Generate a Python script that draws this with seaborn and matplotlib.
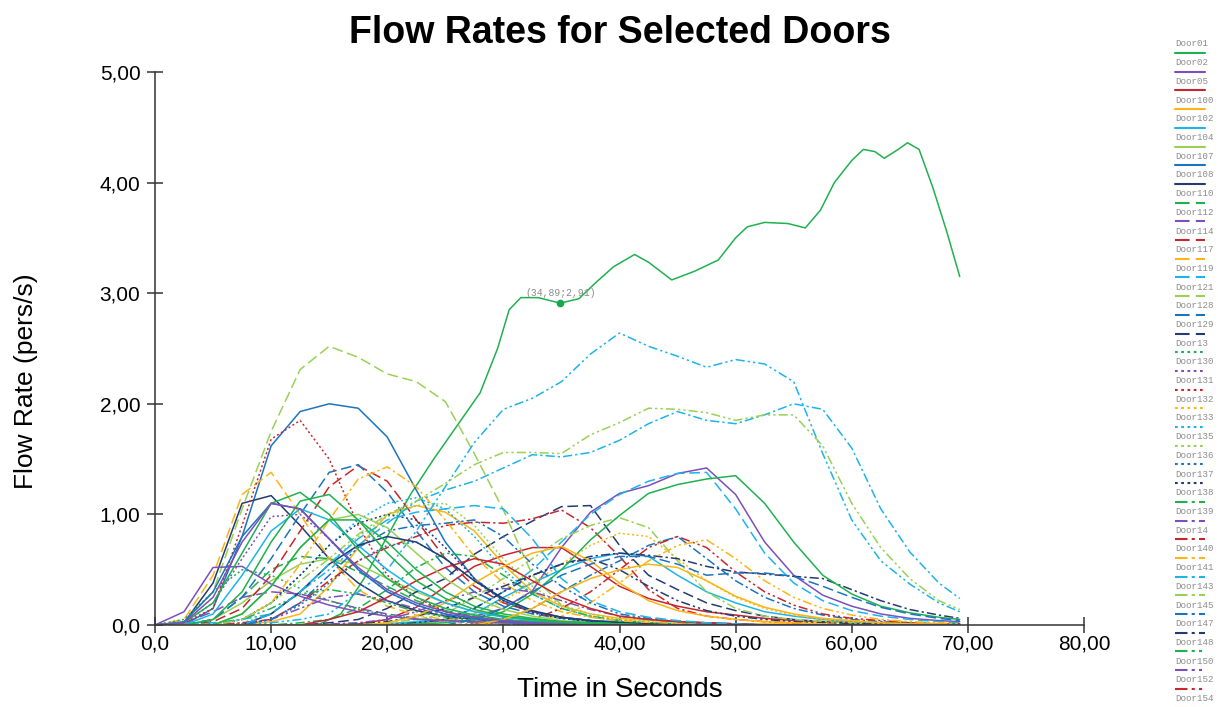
import matplotlib
matplotlib.use("Agg")
import matplotlib.pyplot as plt
from matplotlib.lines import Line2D
import pandas as pd
import seaborn as sns

sns.set_style("ticks")
plt.rcParams['font.family'] = ['Liberation Sans', 'DejaVu Sans']
plt.rcParams['text.color'] = 'black'
plt.rcParams['axes.labelcolor'] = 'black'

# shared time grid (s)
t = [0, 2.5, 5, 7.5, 10, 12.5, 15, 17.5, 20, 22.5, 25, 27.5, 30, 32.5, 35,
     37.5, 40, 42.5, 45, 47.5, 50, 52.5, 55, 57.5, 60, 62.5, 65, 67.5, 69.3]

# Door01 is read on its own, finer grid
t01 = [0, 10, 14, 16, 18, 20, 22, 24, 26, 28, 29.5, 30.5, 31.5, 33, 34.89,
       36.5, 38, 39.5, 41.3, 42.5, 44.5, 46.5, 48.5, 50, 51, 52.5, 54.5, 56,
       57.3, 58.5, 60, 61, 62, 62.8, 64, 64.8, 65.8, 67, 68.2, 69.3]
door01 = [0, 0, 0, 0.1, 0.42, 0.8, 1.18, 1.5, 1.8, 2.1, 2.5, 2.85, 2.96, 2.96,
          2.91, 2.95, 3.1, 3.24, 3.35, 3.28, 3.12, 3.2, 3.3, 3.5, 3.6, 3.64,
          3.63, 3.59, 3.75, 4.0, 4.2, 4.3, 4.28, 4.22, 4.3, 4.36, 4.3, 3.95,
          3.55, 3.15]

door02 = [0, 0, 0, 0, 0, 0, 0, 0, 0.01, 0.02, 0.04, 0.08, 0.15, 0.31, 0.7, 1.02,
          1.19, 1.26, 1.37, 1.42, 1.18, 0.75, 0.45, 0.27, 0.17, 0.1, 0.06, 0.04, 0.03]
door05 = [0, 0, 0, 0, 0, 0, 0, 0.01, 0.05, 0.16, 0.35, 0.53, 0.63, 0.7, 0.7, 0.53,
          0.35, 0.24, 0.17, 0.12, 0.09, 0.06, 0.04, 0.03, 0.02, 0.02, 0.01, 0.01, 0.01]
door100 = [0, 0, 0, 0, 0.03, 0.1, 0.35, 0.7, 1.0, 1.08, 1.02, 0.85, 0.55, 0.3, 0.17, 0.1,
           0.06, 0.04, 0.03, 0.02, 0.01, 0.01, 0.01, 0, 0, 0, 0, 0, 0]
door102 = [0, 0, 0, 0, 0, 0, 0, 0, 0.01, 0.03, 0.05, 0.1, 0.25, 0.38, 0.5, 0.6,
           0.65, 0.62, 0.45, 0.3, 0.2, 0.12, 0.08, 0.05, 0.03, 0.02, 0.01, 0.01, 0.01]
door104 = [0, 0, 0.05, 0.2, 0.4, 0.55, 0.6, 0.55, 0.42, 0.3, 0.2, 0.12, 0.08, 0.05, 0.03, 0.02,
           0.01, 0.01, 0, 0, 0, 0, 0, 0, 0, 0, 0, 0, 0]
door107 = [0, 0, 0.15, 0.8, 1.62, 1.93, 2.0, 1.96, 1.7, 1.22, 0.75, 0.42, 0.22, 0.12, 0.07, 0.04,
           0.03, 0.02, 0.01, 0.01, 0.01, 0, 0, 0, 0, 0, 0, 0, 0]
door108 = [0, 0.02, 0.38, 1.1, 1.17, 0.9, 0.6, 0.38, 0.22, 0.13, 0.08, 0.05, 0.03, 0.02, 0.01, 0.01,
           0, 0, 0, 0, 0, 0, 0, 0, 0, 0, 0, 0, 0]
door110 = [0, 0, 0.05, 0.25, 0.5, 0.62, 0.6, 0.48, 0.35, 0.22, 0.13, 0.08, 0.05, 0.03, 0.02, 0.01,
           0, 0, 0, 0, 0, 0, 0, 0, 0, 0, 0, 0, 0]
door112 = [0, 0.02, 0.12, 0.25, 0.3, 0.28, 0.22, 0.15, 0.1, 0.06, 0.04, 0.02, 0.01, 0.01, 0, 0,
           0, 0, 0, 0, 0, 0, 0, 0, 0, 0, 0, 0, 0]
door114 = [0, 0, 0.03, 0.15, 0.45, 0.85, 1.25, 1.44, 1.3, 0.95, 0.6, 0.35, 0.2, 0.12, 0.07, 0.04,
           0.02, 0.01, 0.01, 0, 0, 0, 0, 0, 0, 0, 0, 0, 0]
door117 = [0, 0.05, 0.45, 1.18, 1.38, 1.0, 0.6, 0.32, 0.17, 0.09, 0.05, 0.03, 0.02, 0.01, 0, 0,
           0, 0, 0, 0, 0, 0, 0, 0, 0, 0, 0, 0, 0]
door119 = [0, 0, 0, 0, 0, 0, 0, 0, 0.01, 0.02, 0.05, 0.15, 0.3, 0.5, 0.75, 1.0,
           1.18, 1.3, 1.37, 1.38, 1.05, 0.65, 0.38, 0.22, 0.13, 0.08, 0.05, 0.03, 0.02]
door121 = [0, 0.02, 0.3, 1.05, 1.75, 2.31, 2.52, 2.42, 2.27, 2.2, 2.02, 1.55, 1.04, 0.45, 0.18, 0.07,
           0.04, 0.02, 0.01, 0.01, 0, 0, 0, 0, 0, 0, 0, 0, 0]
door128 = [0, 0, 0.05, 0.25, 0.6, 1.0, 1.38, 1.45, 1.2, 0.85, 0.52, 0.3, 0.17, 0.1, 0.06, 0.03,
           0.02, 0.01, 0, 0, 0, 0, 0, 0, 0, 0, 0, 0, 0]
door129 = [0, 0, 0, 0, 0, 0, 0.02, 0.05, 0.15, 0.3, 0.42, 0.64, 0.8, 0.94, 1.07, 1.08,
           0.72, 0.45, 0.32, 0.2, 0.13, 0.08, 0.05, 0.03, 0.02, 0.01, 0.01, 0, 0]
door13 = [0, 0.05, 0.3, 0.5, 0.45, 0.33, 0.22, 0.14, 0.09, 0.06, 0.04, 0.02, 0.01, 0, 0, 0,
          0, 0, 0, 0, 0, 0, 0, 0, 0, 0, 0, 0, 0]
door130 = [0, 0.02, 0.2, 0.6, 0.98, 1.0, 0.78, 0.5, 0.3, 0.18, 0.1, 0.06, 0.03, 0.02, 0.01, 0,
           0, 0, 0, 0, 0, 0, 0, 0, 0, 0, 0, 0, 0]
door131 = [0, 0.02, 0.15, 0.9, 1.68, 1.85, 1.5, 0.9, 0.45, 0.25, 0.12, 0.07, 0.04, 0.02, 0.01, 0,
           0, 0, 0, 0, 0, 0, 0, 0, 0, 0, 0, 0, 0]
door132 = [0, 0, 0, 0, 0, 0, 0, 0, 0.01, 0.01, 0.03, 0.1, 0.22, 0.38, 0.55, 0.72,
           0.83, 0.8, 0.6, 0.4, 0.25, 0.15, 0.09, 0.05, 0.03, 0.02, 0.01, 0.01, 0]
door133 = [0, 0, 0, 0.05, 0.2, 0.45, 0.72, 0.95, 1.1, 1.15, 1.05, 0.8, 0.5, 0.28, 0.15, 0.08,
           0.04, 0.02, 0.01, 0, 0, 0, 0, 0, 0, 0, 0, 0, 0]
door135 = [0, 0, 0, 0.02, 0.1, 0.3, 0.55, 0.8, 0.98, 1.08, 1.1, 0.9, 0.6, 0.35, 0.18, 0.1,
           0.05, 0.03, 0.01, 0, 0, 0, 0, 0, 0, 0, 0, 0, 0]
door136 = [0, 0, 0, 0, 0.05, 0.18, 0.38, 0.58, 0.72, 0.75, 0.6, 0.4, 0.22, 0.12, 0.07, 0.04,
           0.02, 0.01, 0, 0, 0, 0, 0, 0, 0, 0, 0, 0, 0]
door137 = [0, 0, 0, 0.05, 0.2, 0.45, 0.72, 0.92, 1.0, 0.95, 0.7, 0.42, 0.22, 0.11, 0.06, 0.03,
           0.02, 0.01, 0, 0, 0, 0, 0, 0, 0, 0, 0, 0, 0]
door138 = [0, 0, 0, 0, 0, 0.02, 0.05, 0.15, 0.32, 0.52, 0.65, 0.62, 0.45, 0.28, 0.15, 0.08,
           0.04, 0.02, 0.01, 0, 0, 0, 0, 0, 0, 0, 0, 0, 0]
door139 = [0, 0, 0, 0, 0, 0, 0.01, 0.02, 0.05, 0.12, 0.22, 0.3, 0.33, 0.3, 0.22, 0.14,
           0.08, 0.05, 0.03, 0.02, 0.01, 0, 0, 0, 0, 0, 0, 0, 0]
door14 = [0, 0, 0, 0.02, 0.05, 0.2, 0.4, 0.58, 0.7, 0.8, 0.9, 0.93, 0.92, 0.96, 1.04, 0.88,
          0.62, 0.32, 0.15, 0.08, 0.05, 0.03, 0.02, 0.01, 0.01, 0, 0, 0, 0]
door140 = [0, 0, 0, 0.05, 0.2, 0.55, 0.95, 1.32, 1.43, 1.25, 0.95, 0.62, 0.38, 0.22, 0.12, 0.07,
           0.04, 0.02, 0.01, 0, 0, 0, 0, 0, 0, 0, 0, 0, 0]
door141 = [0, 0, 0.02, 0.05, 0.1, 0.3, 0.5, 0.72, 0.92, 1.12, 1.22, 1.3, 1.42, 1.54, 1.52, 1.56,
           1.67, 1.82, 1.93, 1.85, 1.82, 1.9, 2.0, 1.95, 1.6, 1.05, 0.66, 0.38, 0.24]
door143 = [0, 0, 0, 0, 0, 0, 0, 0.01, 0.02, 0.05, 0.1, 0.25, 0.42, 0.6, 0.78, 0.9,
           0.97, 0.88, 0.58, 0.3, 0.15, 0.08, 0.05, 0.03, 0.02, 0.01, 0.01, 0, 0]
door145 = [0, 0, 0, 0, 0, 0, 0, 0, 0, 0, 0, 0, 0.05, 0.15, 0.3, 0.45,
           0.58, 0.72, 0.8, 0.6, 0.4, 0.25, 0.15, 0.09, 0.05, 0.03, 0.02, 0.01, 0.01]
door147 = [0, 0, 0, 0, 0, 0, 0, 0.01, 0.03, 0.08, 0.15, 0.25, 0.35, 0.45, 0.55, 0.62,
           0.65, 0.63, 0.6, 0.53, 0.48, 0.46, 0.44, 0.42, 0.32, 0.22, 0.14, 0.09, 0.06]
door148 = [0, 0, 0.01, 0.05, 0.15, 0.28, 0.32, 0.28, 0.2, 0.12, 0.07, 0.04, 0.02, 0.01, 0, 0,
           0, 0, 0, 0, 0, 0, 0, 0, 0, 0, 0, 0, 0]
door150 = [0, 0, 0, 0.01, 0.05, 0.15, 0.25, 0.28, 0.22, 0.15, 0.09, 0.05, 0.03, 0.01, 0, 0,
           0, 0, 0, 0, 0, 0, 0, 0, 0, 0, 0, 0, 0]
door152 = [0, 0, 0, 0, 0, 0, 0, 0, 0, 0, 0, 0.01, 0.02, 0.05, 0.15, 0.3,
           0.5, 0.7, 0.8, 0.7, 0.48, 0.3, 0.18, 0.1, 0.06, 0.04, 0.02, 0.01, 0.01]
door154 = [0, 0, 0, 0, 0, 0, 0, 0, 0, 0, 0, 0, 0.02, 0.04, 0.08, 0.2,
           0.38, 0.58, 0.72, 0.77, 0.6, 0.4, 0.25, 0.15, 0.09, 0.05, 0.03, 0.02, 0.01]
# doors below are drawn but fall outside the visible legend
door156 = [0, 0, 0, 0, 0.02, 0.05, 0.1, 0.3, 0.5, 0.85, 1.25, 1.65, 1.95, 2.05, 2.2, 2.45,
           2.64, 2.52, 2.43, 2.33, 2.4, 2.36, 2.2, 1.55, 0.95, 0.58, 0.37, 0.2, 0.12]
door157 = [0, 0, 0, 0.05, 0.2, 0.4, 0.6, 0.82, 1.0, 1.12, 1.28, 1.45, 1.56, 1.56, 1.55, 1.72,
           1.83, 1.96, 1.95, 1.92, 1.85, 1.9, 1.9, 1.62, 1.1, 0.7, 0.42, 0.22, 0.14]
door158 = [0, 0, 0, 0, 0.05, 0.2, 0.45, 0.7, 0.85, 0.9, 0.92, 0.95, 0.8, 0.55, 0.35, 0.2,
           0.1, 0.06, 0.03, 0.02, 0.01, 0, 0, 0, 0, 0, 0, 0, 0]
door159 = [0, 0, 0, 0, 0, 0, 0, 0, 0, 0.02, 0.05, 0.15, 0.3, 0.45, 0.55, 0.6,
           0.5, 0.35, 0.22, 0.13, 0.08, 0.05, 0.03, 0.02, 0.01, 0.01, 0, 0, 0]
door16 = [0, 0, 0, 0, 0, 0, 0, 0, 0, 0.01, 0.02, 0.05, 0.12, 0.28, 0.5, 0.77,
          0.99, 1.19, 1.27, 1.32, 1.35, 1.1, 0.75, 0.45, 0.28, 0.17, 0.11, 0.07, 0.05]
door160 = [0, 0.12, 0.52, 0.53, 0.37, 0.26, 0.18, 0.12, 0.08, 0.05, 0.04, 0.03, 0.02, 0.01, 0.01, 0,
           0, 0, 0, 0, 0, 0, 0, 0, 0, 0, 0, 0, 0]
door161 = [0, 0, 0, 0, 0, 0, 0.05, 0.12, 0.25, 0.4, 0.52, 0.6, 0.55, 0.4, 0.25, 0.15,
           0.08, 0.05, 0.03, 0.02, 0.01, 0, 0, 0, 0, 0, 0, 0, 0]
door162 = [0, 0, 0, 0, 0, 0, 0, 0, 0.02, 0.08, 0.2, 0.38, 0.53, 0.65, 0.71, 0.58,
           0.38, 0.22, 0.13, 0.08, 0.05, 0.03, 0.02, 0.01, 0, 0, 0, 0, 0]
door163 = [0, 0, 0.1, 0.45, 0.85, 1.05, 0.95, 0.72, 0.5, 0.32, 0.2, 0.12, 0.07, 0.04, 0.02, 0.01,
           0, 0, 0, 0, 0, 0, 0, 0, 0, 0, 0, 0, 0]
door164 = [0, 0, 0, 0.1, 0.35, 0.7, 0.95, 1.0, 0.88, 0.65, 0.42, 0.25, 0.14, 0.08, 0.04, 0.02,
           0.01, 0, 0, 0, 0, 0, 0, 0, 0, 0, 0, 0, 0]
door165 = [0, 0.03, 0.3, 0.8, 1.1, 1.05, 0.78, 0.5, 0.3, 0.18, 0.1, 0.06, 0.03, 0.02, 0.01, 0,
           0, 0, 0, 0, 0, 0, 0, 0, 0, 0, 0, 0, 0]
door166 = [0, 0, 0, 0, 0.1, 0.3, 0.55, 0.72, 0.8, 0.75, 0.6, 0.4, 0.24, 0.13, 0.07, 0.04,
           0.02, 0.01, 0, 0, 0, 0, 0, 0, 0, 0, 0, 0, 0]
door167 = [0, 0.02, 0.2, 0.65, 1.1, 1.2, 1.0, 0.68, 0.42, 0.25, 0.15, 0.09, 0.05, 0.03, 0.02, 0.01,
           0, 0, 0, 0, 0, 0, 0, 0, 0, 0, 0, 0, 0]
door168 = [0, 0, 0.05, 0.3, 0.75, 1.12, 1.18, 0.95, 0.65, 0.4, 0.24, 0.14, 0.08, 0.05, 0.03, 0.02,
           0.01, 0, 0, 0, 0, 0, 0, 0, 0, 0, 0, 0, 0]
door169 = [0, 0, 0, 0.1, 0.35, 0.7, 0.95, 0.95, 0.75, 0.5, 0.3, 0.17, 0.1, 0.06, 0.03, 0.02,
           0.01, 0, 0, 0, 0, 0, 0, 0, 0, 0, 0, 0, 0]
door170 = [0, 0, 0, 0, 0.1, 0.3, 0.55, 0.78, 0.95, 1.02, 1.05, 1.08, 1.05, 0.78, 0.42, 0.22,
           0.12, 0.07, 0.04, 0.02, 0.01, 0, 0, 0, 0, 0, 0, 0, 0]
door171 = [0, 0, 0, 0, 0, 0, 0, 0, 0, 0, 0, 0.05, 0.15, 0.3, 0.45, 0.55,
           0.62, 0.62, 0.55, 0.45, 0.47, 0.47, 0.44, 0.35, 0.25, 0.16, 0.1, 0.06, 0.04]
door172 = [0, 0, 0, 0, 0, 0, 0, 0, 0, 0, 0, 0, 0.05, 0.15, 0.3, 0.42,
           0.5, 0.55, 0.52, 0.4, 0.26, 0.16, 0.1, 0.06, 0.04, 0.02, 0.01, 0.01, 0]
door173 = [0, 0.02, 0.25, 0.75, 1.1, 1.05, 0.78, 0.52, 0.32, 0.2, 0.12, 0.07, 0.04, 0.02, 0.01, 0,
           0, 0, 0, 0, 0, 0, 0, 0, 0, 0, 0, 0, 0]

GREEN, PURPLE, RED, ORANGE = '#1fb150', '#7d4fb8', '#c8262d', '#fdb515'
LBLUE, LGREEN, BLUE, NAVY = '#1cb4ea', '#98d156', '#1c74bf', '#243b72'
SOLID, DASH, DOT = '', (7, 3), (1.3, 1.7)
DASHDOT, DASHDOTDOT = (6, 2, 1.5, 2), (6, 2, 1.5, 2, 1.5, 2)

# name, values, colour, dash pattern
series = [
    ("Door01", door01, GREEN, SOLID), ("Door02", door02, PURPLE, SOLID),
    ("Door05", door05, RED, SOLID), ("Door100", door100, ORANGE, SOLID),
    ("Door102", door102, LBLUE, SOLID), ("Door104", door104, LGREEN, SOLID),
    ("Door107", door107, BLUE, SOLID), ("Door108", door108, NAVY, SOLID),
    ("Door110", door110, GREEN, DASH), ("Door112", door112, PURPLE, DASH),
    ("Door114", door114, RED, DASH), ("Door117", door117, ORANGE, DASH),
    ("Door119", door119, LBLUE, DASH), ("Door121", door121, LGREEN, DASH),
    ("Door128", door128, BLUE, DASH), ("Door129", door129, NAVY, DASH),
    ("Door13", door13, GREEN, DOT), ("Door130", door130, PURPLE, DOT),
    ("Door131", door131, RED, DOT), ("Door132", door132, ORANGE, DOT),
    ("Door133", door133, LBLUE, DOT), ("Door135", door135, LGREEN, DOT),
    ("Door136", door136, BLUE, DOT), ("Door137", door137, NAVY, DOT),
    ("Door138", door138, GREEN, DASHDOT), ("Door139", door139, PURPLE, DASHDOT),
    ("Door14", door14, RED, DASHDOT), ("Door140", door140, ORANGE, DASHDOT),
    ("Door141", door141, LBLUE, DASHDOT), ("Door143", door143, LGREEN, DASHDOT),
    ("Door145", door145, BLUE, DASHDOT), ("Door147", door147, NAVY, DASHDOT),
    ("Door148", door148, GREEN, DASHDOTDOT), ("Door150", door150, PURPLE, DASHDOTDOT),
    ("Door152", door152, RED, DASHDOTDOT), ("Door154", door154, ORANGE, DASHDOTDOT),
    ("Door156", door156, LBLUE, DASHDOTDOT), ("Door157", door157, LGREEN, DASHDOTDOT),
    ("Door158", door158, BLUE, DASHDOTDOT), ("Door159", door159, NAVY, DASHDOTDOT),
    ("Door16", door16, GREEN, SOLID), ("Door160", door160, PURPLE, SOLID),
    ("Door161", door161, RED, SOLID), ("Door162", door162, ORANGE, SOLID),
    ("Door163", door163, LBLUE, SOLID), ("Door164", door164, LGREEN, SOLID),
    ("Door165", door165, BLUE, SOLID), ("Door166", door166, NAVY, SOLID),
    ("Door167", door167, GREEN, SOLID), ("Door168", door168, GREEN, SOLID),
    ("Door169", door169, GREEN, SOLID), ("Door170", door170, LBLUE, DASH),
    ("Door171", door171, BLUE, DASH), ("Door172", door172, ORANGE, SOLID),
    ("Door173", door173, PURPLE, SOLID),
]
n_legend = 36  # Door01 .. Door154 are listed at the right edge

xticks = [0, 10, 20, 30, 40, 50, 60, 70, 80]
xtick_labels = ["0,0", "10,00", "20,00", "30,00", "40,00", "50,00", "60,00", "70,00", "80,00"]
yticks = [0, 1, 2, 3, 4, 5]
ytick_labels = ["0,0", "1,00", "2,00", "3,00", "4,00", "5,00"]
marked = (34.89, 2.91)

rows = []
for name, vals, col, dash in series:
    xs = t01 if name == "Door01" else t
    for x, v in zip(xs, vals):
        rows.append((name, x, v))
df = pd.DataFrame(rows, columns=["door", "time", "flow"])
palette = {s[0]: s[2] for s in series}
dashes = {s[0]: s[3] for s in series}

fig = plt.figure(figsize=(12.18, 7.07), dpi=100)
ax = fig.add_axes([155 / 1218, 1 - 625 / 707, 929 / 1218, 553 / 707])

sns.lineplot(data=df, x="time", y="flow", hue="door", style="door",
             palette=palette, dashes=dashes, linewidth=1.1, legend=False,
             estimator=None, sort=False, ax=ax)

ax.plot(*marked, 'o', color='#14a84a', ms=4.5, zorder=5)
ax.annotate("(34,89;2,91)", marked, xytext=(0, 7), textcoords='offset points',
            ha='center', va='center', fontsize=7, family='Liberation Mono',
            color='#8c8c8c')

ax.set_xlim(0, 80)
ax.set_ylim(0, 5)
ax.set_xticks(xticks, xtick_labels)
ax.set_yticks(yticks, ytick_labels)
ax.tick_params(direction='inout', length=11, width=1.1, labelsize=15,
               color='#333333', labelcolor='black')
ax.tick_params(axis='x', pad=1)
ax.tick_params(axis='y', pad=5)
for side in ['top', 'right']:
    ax.spines[side].set_visible(False)
for side in ['left', 'bottom']:
    ax.spines[side].set_linewidth(1.1)
    ax.spines[side].set_color('#333333')
ax.set_xlabel("Time in Seconds", fontsize=20, labelpad=17)
ax.set_ylabel("Flow Rate (pers/s)", fontsize=19)
ax.yaxis.set_label_coords(-0.126, 0.44)
ax.set_title("Flow Rates for Selected Doors", fontsize=27, fontweight='bold',
             pad=21, color='black')

# legend drawn at the right edge: name above, line sample below
for i, (name, vals, col, dash) in enumerate(series[:n_legend]):
    yt = 44 + i * 18.7
    fig.text(1175 / 1218, 1 - yt / 707, name, fontsize=6.6, family='Liberation Mono',
             color='#8c8c8c', va='center', ha='left')
    yl = 1 - (yt + 9) / 707
    ln = Line2D([1175 / 1218, 1205 / 1218], [yl, yl], transform=fig.transFigure,
                color=col, lw=1.5)
    if dash:
        ln.set_dashes(dash)
    fig.add_artist(ln)

fig.savefig("out.png", dpi=100)
